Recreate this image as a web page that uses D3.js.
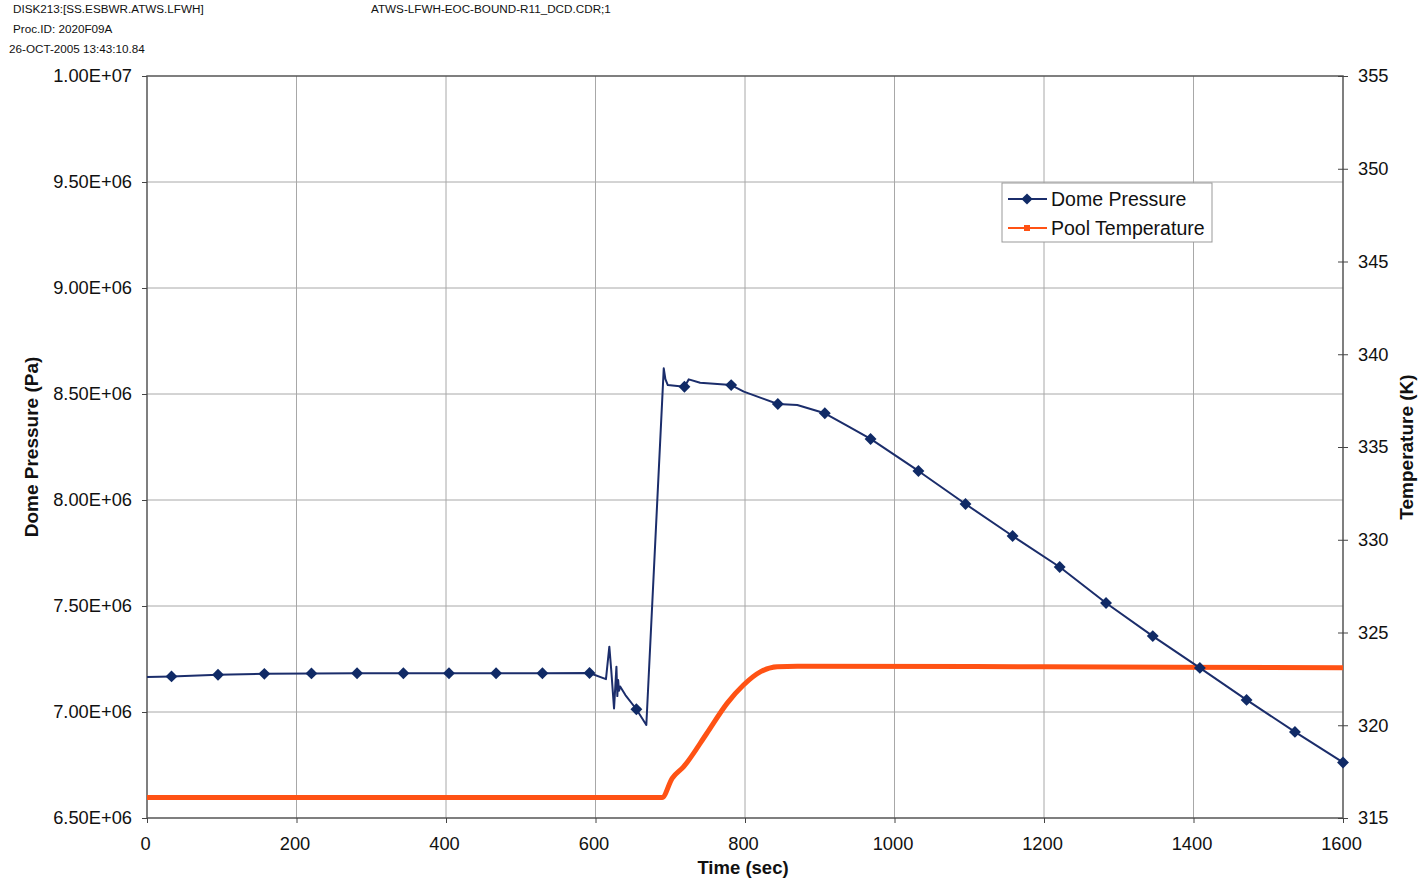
<!DOCTYPE html>
<html>
<head>
<meta charset="utf-8">
<script src="https://cdn.jsdelivr.net/npm/d3@7"></script>
<style>
  body { margin: 0; background: #fff; }
  svg text { font-family: "Liberation Sans", Arial, sans-serif; fill: #111; }
</style>
</head>
<body>
<div id="chart"></div>
<script>
// header lines printed above the chart
let headerLines = [
  { text: 'DISK213:[SS.ESBWR.ATWS.LFWH]', x: 13, y: 13 },
  { text: 'ATWS-LFWH-EOC-BOUND-R11_DCD.CDR;1', x: 371, y: 13 },
  { text: 'Proc.ID: 2020F09A', x: 13, y: 33 },
  { text: '26-OCT-2005 13:43:10.84', x: 9, y: 53 }
];

// dome pressure (Pa) vs time (sec)
let pressTime = [0, 32.8, 95, 157, 220, 281, 343, 404, 467, 529, 592, 614, 618.5, 621, 624.8, 628, 629.2, 630.3, 631.5, 633, 640,
  654.7, 668, 691.3, 693.5, 696.7, 719, 724.8, 740, 781.5, 798.4, 843.9, 869.9, 906.8, 937, 968, 1032, 1095, 1158, 1221,
  1283, 1345.5, 1408.5, 1471, 1535.7, 1600];
let pressVal = [7.165e6, 7.168e6, 7.176e6, 7.180e6, 7.182e6, 7.183e6, 7.183e6, 7.183e6, 7.183e6, 7.183e6, 7.184e6, 7.155e6,
  7.308e6, 7.20e6, 7.017e6, 7.214e6, 7.075e6, 7.151e6, 7.10e6, 7.12e6, 7.08e6,
  7.013e6, 6.939e6, 8.621e6, 8.57e6, 8.542e6, 8.534e6, 8.569e6, 8.553e6, 8.542e6, 8.511e6, 8.453e6, 8.448e6, 8.409e6, 8.35e6,
  8.288e6, 8.137e6, 7.981e6, 7.830e6, 7.684e6, 7.514e6, 7.358e6, 7.208e6, 7.057e6, 6.906e6, 6.762e6];
// times where the pressure series shows a marker
let markerTime = [32.8, 95, 157, 220, 281, 343, 404, 467, 529, 592, 654.7, 719, 781.5, 843.9, 906.8, 968, 1032, 1095,
  1158, 1221, 1283, 1345.5, 1408.5, 1471, 1535.7, 1600];

// pool temperature (K) vs time (sec)
let tempTime = [0, 689, 702.5, 718, 749, 776, 798, 821, 843, 870, 1200, 1600];
let tempVal = [316.1, 316.1, 317.14, 317.77, 319.57, 321.18, 322.17, 322.89, 323.16, 323.18, 323.15, 323.1];

let xTicks = [0, 200, 400, 600, 800, 1000, 1200, 1400, 1600];
let leftTicks = [6.5e6, 7.0e6, 7.5e6, 8.0e6, 8.5e6, 9.0e6, 9.5e6, 1.0e7];
let rightTicks = [315, 320, 325, 330, 335, 340, 345, 350, 355];

let seriesNames = ['Dome Pressure', 'Pool Temperature'];
let blue = '#1b2d6b';
let orange = '#ff5214';

let dim = { width: 1421, height: 880 };
let plot = { left: 147, right: 1343, top: 76, bottom: 818 };

let svg = d3.select('#chart').append('svg')
  .attr('width', dim.width)
  .attr('height', dim.height);

let scaleX = d3.scaleLinear().domain([0, 1600]).range([plot.left, plot.right]);
let scaleP = d3.scaleLinear().domain([6.5e6, 1.0e7]).range([plot.bottom, plot.top]);
let scaleT = d3.scaleLinear().domain([315, 355]).range([plot.bottom, plot.top]);

// header text
svg.selectAll('.hdr').data(headerLines).enter().append('text')
  .attr('class', 'hdr')
  .attr('x', d => d.x).attr('y', d => d.y)
  .style('font-size', '11.7px')
  .text(d => d.text);

// gridlines
svg.append('g').selectAll('line').data(xTicks.slice(1, -1)).enter().append('line')
  .attr('x1', d => scaleX(d)).attr('x2', d => scaleX(d))
  .attr('y1', plot.top).attr('y2', plot.bottom)
  .attr('stroke', '#a8a8a8').attr('stroke-width', 1);
svg.append('g').selectAll('line').data(leftTicks.slice(1, -1)).enter().append('line')
  .attr('x1', plot.left).attr('x2', plot.right)
  .attr('y1', d => scaleP(d)).attr('y2', d => scaleP(d))
  .attr('stroke', '#a8a8a8').attr('stroke-width', 1);

// plot frame
svg.append('rect')
  .attr('x', plot.left).attr('y', plot.top)
  .attr('width', plot.right - plot.left).attr('height', plot.bottom - plot.top)
  .attr('fill', 'none').attr('stroke', '#555').attr('stroke-width', 1.5);

// axes
let axisX = svg.append('g')
  .attr('transform', `translate(0,${plot.bottom})`)
  .call(d3.axisBottom(scaleX).tickValues(xTicks).tickFormat(d3.format('d')).tickSize(5).tickPadding(14));
axisX.selectAll('.tick text').attr('dx', -2);
let axisL = svg.append('g')
  .attr('transform', `translate(${plot.left},0)`)
  .call(d3.axisLeft(scaleP).tickValues(leftTicks).tickSize(5).tickPadding(10)
    .tickFormat(d => d.toExponential(2).toUpperCase().replace(/E\+(\d)$/, 'E+0$1')));
let axisR = svg.append('g')
  .attr('transform', `translate(${plot.right},0)`)
  .call(d3.axisRight(scaleT).tickValues(rightTicks).tickSize(5).tickPadding(10));
axisR.selectAll('.tick line').attr('x1', -5);

[axisX, axisL, axisR].forEach(a => {
  a.select('.domain').remove();
  a.selectAll('.tick line').attr('stroke', '#444');
  a.selectAll('.tick text').style('font-size', '18.3px').attr('fill', '#111')
    .style('font-family', '"Liberation Sans", Arial, sans-serif');
});

// axis titles
svg.append('text')
  .attr('x', (plot.left + plot.right) / 2 - 2).attr('y', 874)
  .attr('text-anchor', 'middle')
  .style('font-size', '18.5px').style('font-weight', 'bold')
  .text('Time (sec)');
svg.append('text')
  .attr('transform', `translate(38,${(plot.top + plot.bottom) / 2}) rotate(-90)`)
  .attr('text-anchor', 'middle')
  .style('font-size', '19px').style('font-weight', 'bold')
  .text('Dome Pressure (Pa)');
svg.append('text')
  .attr('transform', `translate(1413,${(plot.top + plot.bottom) / 2}) rotate(-90)`)
  .attr('text-anchor', 'middle')
  .style('font-size', '19px').style('font-weight', 'bold')
  .text('Temperature (K)');

// temperature line
let tempData = tempTime.map((t, i) => ({ t: t, v: tempVal[i] }));
svg.append('path')
  .datum(tempData)
  .attr('fill', 'none').attr('stroke', orange).attr('stroke-width', 5)
  .attr('stroke-linejoin', 'round')
  .attr('d', d3.line().x(d => scaleX(d.t)).y(d => scaleT(d.v)).curve(d3.curveMonotoneX));

// pressure line
let pressData = pressTime.map((t, i) => ({ t: t, v: pressVal[i] }));
svg.append('path')
  .datum(pressData)
  .attr('fill', 'none').attr('stroke', blue).attr('stroke-width', 2)
  .attr('stroke-linejoin', 'round')
  .attr('d', d3.line().x(d => scaleX(d.t)).y(d => scaleP(d.v)));

let markerData = pressData.filter(d => markerTime.includes(d.t));
svg.append('g').selectAll('path').data(markerData).enter().append('path')
  .attr('transform', d => `translate(${scaleX(d.t)},${scaleP(d.v)})`)
  .attr('d', d3.symbol().type(d3.symbolDiamond2).size(90))
  .attr('fill', '#102a66');

// legend
let legend = svg.append('g').attr('transform', 'translate(1002,183)');
legend.append('rect')
  .attr('width', 210).attr('height', 59)
  .attr('fill', '#fff').attr('stroke', '#999').attr('stroke-width', 1);
let rows = legend.selectAll('.row').data(seriesNames).enter().append('g')
  .attr('transform', (d, i) => `translate(0,${16 + i * 29})`);
rows.append('line')
  .attr('x1', 6).attr('x2', 45).attr('y1', 0).attr('y2', 0)
  .attr('stroke', (d, i) => i === 0 ? blue : orange).attr('stroke-width', 2);
rows.filter((d, i) => i === 0).append('path')
  .attr('transform', 'translate(25,0)')
  .attr('d', d3.symbol().type(d3.symbolDiamond2).size(80))
  .attr('fill', '#102a66');
rows.filter((d, i) => i === 1).append('rect')
  .attr('x', 22).attr('y', -3).attr('width', 6).attr('height', 6)
  .attr('fill', orange);
rows.append('text')
  .attr('x', 49).attr('y', 0).attr('dy', '0.35em')
  .style('font-size', '19.5px')
  .text(d => d);
</script>
</body>
</html>
